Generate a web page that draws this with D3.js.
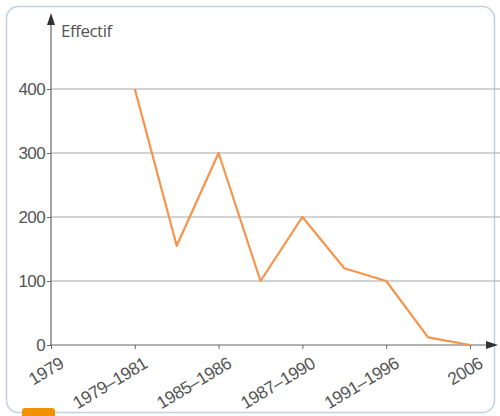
<!DOCTYPE html>
<html>
<head>
<meta charset="utf-8">
<script src="https://cdn.jsdelivr.net/npm/d3@7"></script>
<style>
  body { margin: 0; background: #fff; }
  svg { display: block; font-family: "Open Sans", "DejaVu Sans", sans-serif; }
</style>
</head>
<body>
<svg id="chart" width="500" height="416"></svg>
<script>
// tick labels along the x axis (one per whole step)
let periods = ["1979", "1979–1981", "1985–1986", "1987–1990", "1991–1996", "2006"];
// line points sit on half steps between the labels
let steps = [1, 1.5, 2, 2.5, 3, 3.5, 4, 4.5, 5];
let effectif = [400, 155, 300, 100, 200, 120, 100, 12, 0];
let yTicks = [0, 100, 200, 300, 400];

let svg = d3.select("#chart");

// frame
svg.append("rect")
    .attr("x", 6.5).attr("y", 6.5)
    .attr("width", 488).attr("height", 406)
    .attr("rx", 12)
    .style("fill", "#fff")
    .style("stroke", "#bcd2e2")
    .style("stroke-width", 1.5);

// little orange tab at the bottom
svg.append("rect")
    .attr("x", 22).attr("y", 408)
    .attr("width", 33).attr("height", 14)
    .attr("rx", 3)
    .style("fill", "#f39200");

let x = d3.scaleLinear().domain([0, 5]).range([51, 470]);
let y = d3.scaleLinear().domain([0, 400]).range([345, 89]);

let g = svg.append("g");

// gridlines
g.selectAll(".grid")
    .data(yTicks.filter(d => d > 0))
    .enter().append("line")
    .attr("x1", 51).attr("x2", 500)
    .attr("y1", d => y(d)).attr("y2", d => y(d))
    .style("stroke", "#c4c4c4")
    .style("stroke-width", 1.5);

// y axis
let yAxis = g.append("g")
    .attr("transform", "translate(51,0)")
    .call(d3.axisLeft(y).tickValues(yTicks).tickSize(4).tickPadding(2));
yAxis.select(".domain").remove();
yAxis.selectAll("line").style("stroke", "#666");
yAxis.selectAll("text")
    .style("font-size", "17px")
    .style("letter-spacing", "-0.6px")
    .style("fill", "#555");

g.append("line")
    .attr("x1", 51).attr("x2", 51)
    .attr("y1", 346).attr("y2", 24)
    .style("stroke", "#666").style("stroke-width", 1.2);
g.append("path")
    .attr("d", "M51,13 L47,25 L55,25 Z")
    .style("fill", "#333");

// x axis
let xAxis = g.append("g")
    .attr("transform", "translate(0,345)")
    .call(d3.axisBottom(x).ticks(5).tickFormat(i => periods[i]).tickSize(4));
xAxis.select(".domain").remove();
xAxis.selectAll("line").style("stroke", "#666");
xAxis.selectAll("text")
    .style("font-size", "17.5px")
    .style("letter-spacing", "-0.5px")
    .style("fill", "#555")
    .style("text-anchor", "end")
    .attr("x", 0).attr("y", 0)
    .attr("dy", "0.72em")
    .attr("transform", "translate(7,11) rotate(-31)");

g.append("line")
    .attr("x1", 50).attr("x2", 488)
    .attr("y1", 345).attr("y2", 345)
    .style("stroke", "#666").style("stroke-width", 1.2);
g.append("path")
    .attr("d", "M498,345 L486,341 L486,349 Z")
    .style("fill", "#333");

// label
g.append("text")
    .attr("x", 61).attr("y", 37)
    .text("Effectif")
    .style("font-size", "17px")
    .style("fill", "#555")
    .style("letter-spacing", "-0.5px");

// the line
let line = d3.line()
    .x((d, i) => x(steps[i]))
    .y(d => y(d));

g.append("path")
    .datum(effectif)
    .attr("d", line)
    .style("fill", "none")
    .style("stroke", "#f7944c")
    .style("stroke-width", 2.2)
    .style("stroke-linejoin", "round");
</script>
</body>
</html>
